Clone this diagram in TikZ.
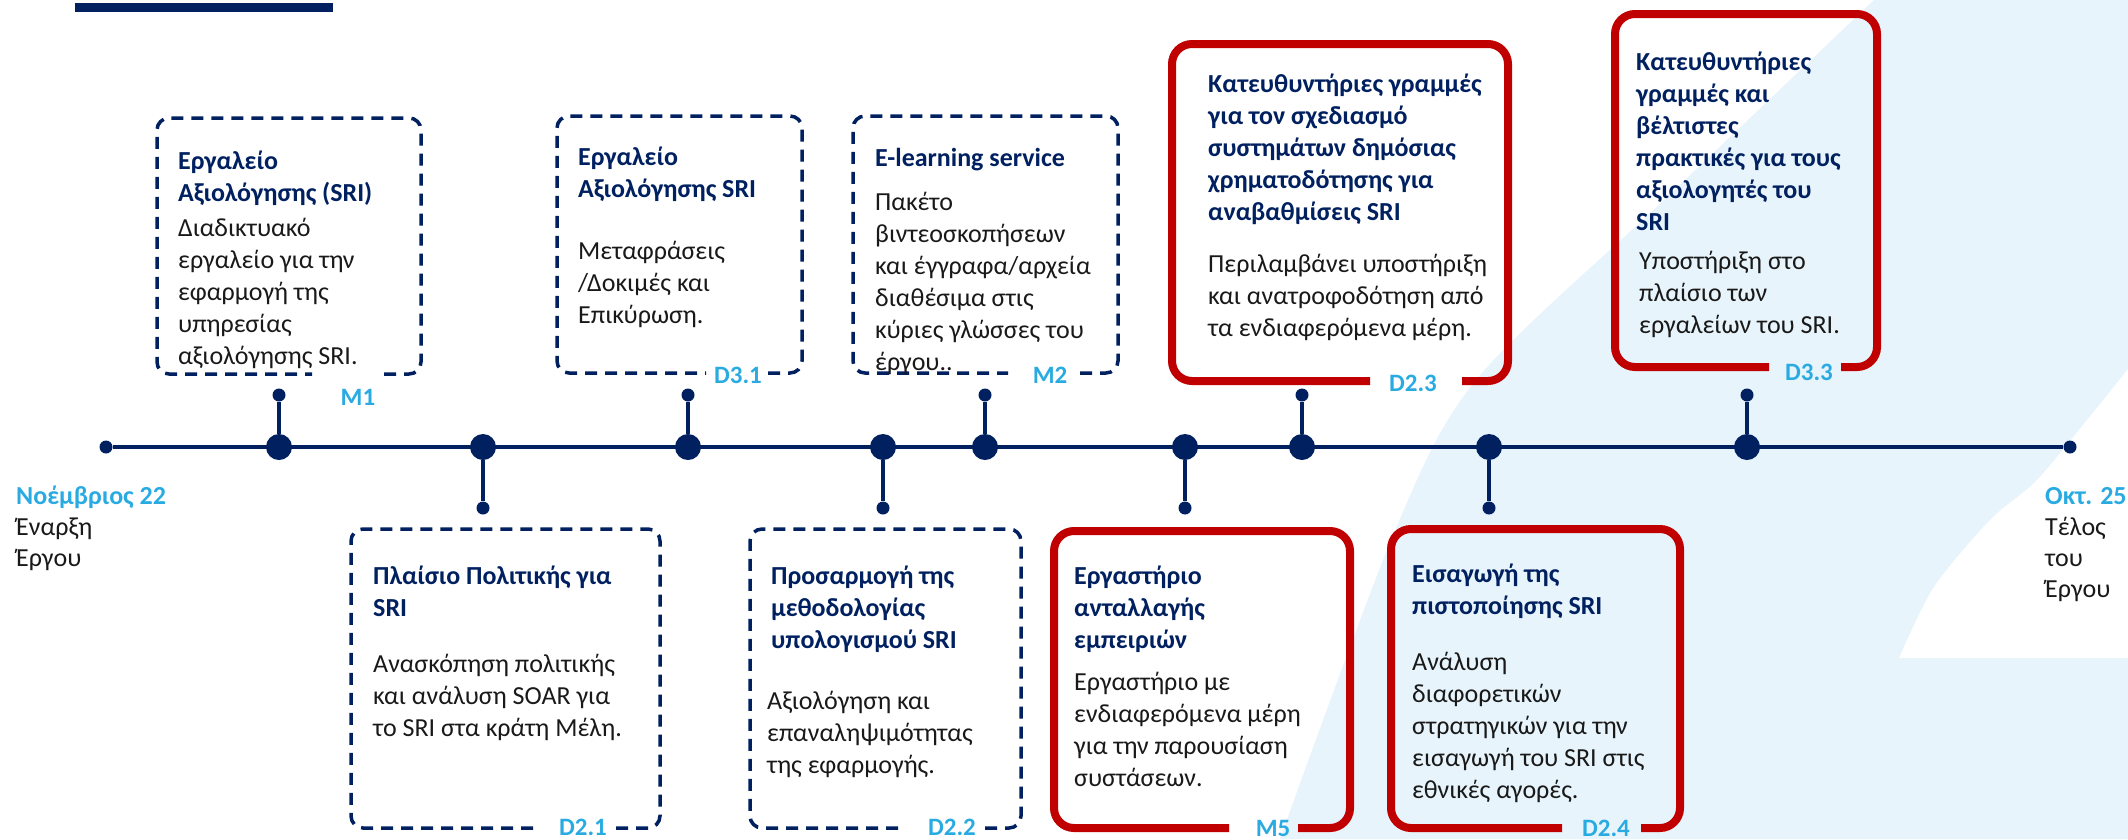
\documentclass[tikz,border=0pt]{standalone}
\usepackage{fontspec}
\setmainfont{Carlito}
\definecolor{navy}{HTML}{002060}
\definecolor{redb}{HTML}{C00000}
\definecolor{lbl}{HTML}{29ABE2}
\definecolor{bgblue}{HTML}{E7F4FB}
\tikzset{
  tline/.style={navy, line width=4.5pt},
  bigdot/.style={circle, fill=navy, inner sep=0pt, minimum size=26pt},
  smalldot/.style={circle, fill=navy, inner sep=0pt, minimum size=13pt},
  dashbox/.style={navy, line width=3.5pt, dash pattern=on 12pt off 8pt, rounded corners=12pt},
  redbox/.style={redb, line width=8pt, rounded corners=20pt},
  ttl/.style={anchor=base west, inner sep=0pt, font=\fontsize{26}{32}\selectfont\bfseries, text=navy},
  bdy/.style={anchor=base west, inner sep=0pt, font=\fontsize{26}{32}\selectfont, text=black!90},
  lab/.style={inner sep=0pt, font=\fontsize{25}{30}\selectfont\bfseries, text=lbl},
  endlab/.style={anchor=base west, inner sep=0pt, font=\fontsize{26}{30}\selectfont\bfseries, text=lbl},
}
\newcommand\txtlines[4]{%
  \foreach \t [count=\i from 0] in {#4} {\node[#1] at (#2, #3+32*\i) {\t};}}
\newcommand\gapbox[7]{%
  \draw[#1] (#7,#5) -- (#4,#5) -- (#4,#3) -- (#2,#3) -- (#2,#5) -- (#6,#5);}
\begin{document}
\begin{tikzpicture}[x=1pt,y=-1pt]
\useasboundingbox (0,0) rectangle (2128,839);
% background
\fill[bgblue] plot[smooth] coordinates {(1280,839) (1394,533) (1476,380) (1664,200) (1874,0)} -- (2128,0) -- (2128,839) -- cycle;
\fill[white] plot[smooth] coordinates {(2128,369) (2087,420) (2036,481) (1990,520) (1934,587) (1899,658)} -- (2128,658) -- cycle;
\fill[navy] (75,3) rectangle (333,12);

% timeline
\node[smalldot] (start) at (106,447) {};
\node[smalldot] (end) at (2070,447) {};
\draw[tline] (start) -- (end);
\foreach \n/\x in {1/279,2/483,3/688,4/883,5/985,6/1185,7/1302,8/1489,9/1747}{
  \node[bigdot] (d\n) at (\x,447) {};
}
\foreach \n/\x in {1/279,3/688,5/985,7/1302,9/1747}{
  \node[smalldot] (s\n) at (\x,395) {};
  \draw[tline] (d\n) -- (s\n);
}
\foreach \n/\x in {2/483,4/883,6/1185,8/1489}{
  \node[smalldot] (s\n) at (\x,508) {};
  \draw[tline] (d\n) -- (s\n);
}

% M1
\gapbox{dashbox}{157}{118}{421}{374}{312}{384}
\node[lab] (lM1) at (358,397) {M1};
\txtlines{ttl}{178}{169}{Εργαλείο,Αξιολόγησης (SRI)}
\txtlines{bdy}{178}{236}{Διαδικτυακό,εργαλείο για την,εφαρμογή της,υπηρεσίας,αξιολόγησης SRI.}

% D3.1
\gapbox{dashbox}{557}{116}{802}{373}{706}{768}
\node[lab] (lD31) at (738,375) {D3.1};
\txtlines{ttl}{578}{165}{Εργαλείο,Αξιολόγησης SRI}
\txtlines{bdy}{578}{259}{Μεταφράσεις,/Δοκιμές και,Επικύρωση.}

% M2
\gapbox{dashbox}{853}{116}{1118}{373}{1008}{1080}
\node[lab] (lM2) at (1050,375) {M2};
\txtlines{ttl}{875}{166}{E-learning service}
\txtlines{bdy}{875}{210}{Πακέτο,βιντεοσκοπήσεων,και έγγραφα/αρχεία,διαθέσιμα στις,κύριες γλώσσες του,έργου..}

% D2.3
\gapbox{redbox}{1172}{44}{1508}{381}{1370}{1462}
\node[lab] (lD23) at (1413,383) {D2.3};
\txtlines{ttl}{1208}{92}{Κατευθυντήριες γραμμές,για τον σχεδιασμό,συστημάτων δημόσιας,χρηματοδότησης για,αναβαθμίσεις SRI}
\txtlines{bdy}{1208}{272}{Περιλαμβάνει υποστήριξη,και ανατροφοδότηση από,τα ενδιαφερόμενα μέρη.}

% D3.3
\gapbox{redbox}{1615}{14}{1877}{367}{1769}{1841}
\node[lab] (lD33) at (1809,372) {D3.3};
\txtlines{ttl}{1636}{70}{Κατευθυντήριες,γραμμές και,βέλτιστες,πρακτικές για τους,αξιολογητές του,SRI}
\txtlines{bdy}{1639}{269}{Υποστήριξη στο,πλαίσιο των,εργαλείων του SRI.}

% D2.1
\gapbox{dashbox}{351}{529}{660}{828}{533}{616}
\node[lab] (lD21) at (583,827) {D2.1};
\txtlines{ttl}{373}{584}{Πλαίσιο Πολιτικής για,SRI}
\txtlines{bdy}{373}{672}{Ανασκόπηση πολιτικής,και ανάλυση SOAR για,το SRI στα κράτη Μέλη.}

% D2.2
\gapbox{dashbox}{750}{529}{1021}{828}{905}{985}
\node[lab] (lD22) at (952,827) {D2.2};
\txtlines{ttl}{771}{584}{Προσαρμογή της,μεθοδολογίας,υπολογισμού SRI}
\txtlines{bdy}{767}{709}{Αξιολόγηση και,επαναληψιμότητας,της εφαρμογής.}

% M5
\gapbox{redbox}{1054}{531}{1350}{828}{1229}{1298}
\node[lab] (lM5) at (1273,828) {M5};
\txtlines{ttl}{1074}{584}{Εργαστήριο,ανταλλαγής,εμπειριών}
\txtlines{bdy}{1074}{690}{Εργαστήριο με,ενδιαφερόμενα μέρη,για την παρουσίαση,συστάσεων.}

% D2.4
\gapbox{redbox}{1391}{529}{1680}{828}{1562}{1641}
\node[lab] (lD24) at (1606,828) {D2.4};
\txtlines{ttl}{1412}{582}{Εισαγωγή της,πιστοποίησης SRI}
\txtlines{bdy}{1412}{670}{Ανάλυση,διαφορετικών,στρατηγικών για την,εισαγωγή του SRI στις,εθνικές αγορές.}

% end labels
\node[endlab] (startdate) at (16,504) {Νοέμβριος 22};
\node[bdy] (starttxt1) at (16,535) {Έναρξη};
\node[bdy] (starttxt2) at (16,566) {Έργου};
\node[endlab] (enddate) at (2045,504) {Οκτ. 25};
\node[bdy] (endtxt1) at (2045,535) {Τέλος};
\node[bdy] (endtxt2) at (2045,566) {του};
\node[bdy] (endtxt3) at (2045,597) {Έργου};
\end{tikzpicture}
\end{document}
